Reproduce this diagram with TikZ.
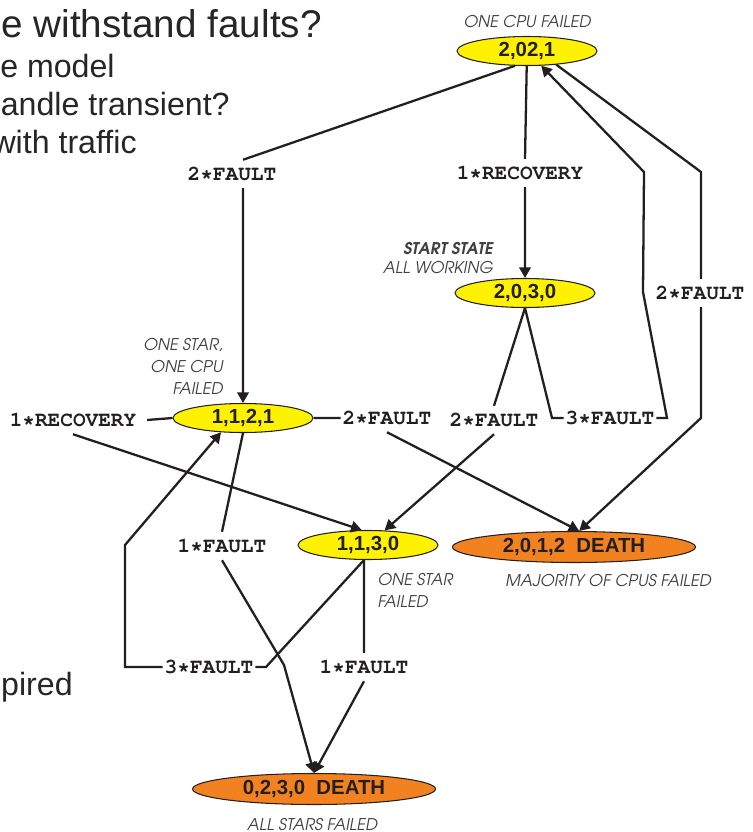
\documentclass[tikz,border=0pt]{standalone}
\usepackage[T1,TU]{fontenc}
\usepackage{fontspec}
\setmainfont{Liberation Sans}
\usetikzlibrary{shapes.geometric,arrows.meta}
\definecolor{stateyellow}{RGB}{255,242,0}
\definecolor{deathorange}{RGB}{242,130,32}
\definecolor{inkgray}{RGB}{35,31,32}

\newcommand{\ratefont}{\fontencoding{T1}\fontfamily{pcr}\fontseries{b}\fontshape{n}\fontsize{12}{13}\selectfont}
\newcommand{\notefont}{\fontencoding{T1}\fontfamily{pag}\fontseries{m}\fontshape{sl}\fontsize{9.2}{10}\selectfont}

\tikzset{
  state/.style={ellipse,draw=inkgray,line width=0.6pt,fill=stateyellow,inner sep=0pt,
    minimum width=2.8cm,minimum height=0.58cm,text=inkgray,
    font=\fontsize{11.6}{13}\selectfont\bfseries},
  death/.style={state,fill=deathorange,minimum width=4.86cm,minimum height=0.62cm},
  rate/.style={font=\ratefont,text=inkgray,inner xsep=1pt,inner ysep=4pt},
  note/.style={font=\notefont,text=black!75,inner sep=0pt},
  slide/.style={font=\fontsize{18.3}{20}\selectfont,text=black!85,inner sep=0pt,anchor=base east},
  trans/.style={line width=1.3pt,draw=inkgray,-{Triangle[length=6pt,width=6.5pt]}},
}

\begin{document}
\begin{tikzpicture}[x=0.02cm,y=-0.02cm]
  \useasboundingbox (0,0) rectangle (753,832);
  \clip (0,0) rectangle (753,832);

  \node[slide,font=\fontsize{22}{24}\selectfont] (t1) at (322,37) {e withstand faults?};
  \node[slide] (t2) at (115,77) {e model};
  \node[slide] (t3) at (230,115) {andle transient?};
  \node[slide] (t4) at (137,153) {with traffic};
  \node[slide] (t5) at (73,695) {pired};

  \node[state] (s2021) at (527,51) {2,02,1};
  \node[state] (s2030) at (525,293) {2,0,3,0};
  \node[state] (s1121) at (243,418) {1,1,2,1};
  \node[state] (s1130) at (368,545) {1,1,3,0};
  \node[death] (d2012) at (574,547) {2,0,1,2\ \ DEATH};
  \node[death] (d0230) at (314,789) {0,2,3,0\ \ DEATH};

  \node[note,anchor=base] (n2021) at (527,27) {ONE CPU FAILED};
  \node[note,anchor=base east,font=\notefont\fontseries{db}\selectfont] (n2030a) at (493,254) {START STATE};
  \node[note,anchor=base east] (n2030b) at (493,273) {ALL WORKING};
  \node[note,anchor=base east] (n1121a) at (223,350) {ONE STAR,};
  \node[note,anchor=base east] (n1121b) at (223,372) {ONE CPU};
  \node[note,anchor=base east] (n1121c) at (223,394) {FAILED};
  \node[note,anchor=base west] (n1130a) at (377,585) {ONE STAR};
  \node[note,anchor=base west] (n1130b) at (377,607) {FAILED};
  \node[note,anchor=base] (n2012) at (608,586) {MAJORITY OF CPUS FAILED};
  \node[note,anchor=base] (n0230) at (312,830) {ALL STARS FAILED};

  \node[rate] (f2021a) at (232,174) {2*FAULT};
  \node[rate] (r2021) at (520,173) {1*RECOVERY};
  \node[rate] (f2021b) at (700,293) {2*FAULT};
  \node[rate,inner xsep=6pt] (r1121) at (73,420) {1*RECOVERY};
  \node[rate] (f1121) at (387,418) {2*FAULT};
  \node[rate] (f2030a) at (494,420) {2*FAULT};
  \node[rate] (f2030b) at (610,418) {3*FAULT};
  \node[rate] (f1121b) at (222,546) {1*FAULT};
  \node[rate] (f1130a) at (209,667) {3*FAULT};
  \node[rate] (f1130b) at (364,667) {1*FAULT};

  \coordinate (c1) at (552,418);
  \coordinate (c2) at (667,418);
  \coordinate (c3) at (643,292);
  \coordinate (c4) at (644,172);
  \coordinate (c5) at (701,172);
  \coordinate (c6) at (701,418);
  \coordinate (c7) at (284,665);
  \coordinate (c8) at (266,667);
  \coordinate (c9) at (125,667);
  \coordinate (c10) at (125,545);

  \draw[trans] (s2021.-129) -- (f2021a.north -| s1121) (f2021a.south -| s1121) -- (s1121);
  \draw[trans] (s2021) -- (r2021.north -| s2030) (r2021.south -| s2030) -- (s2030);
  \draw[trans] (s2030.south) -- (c1) -- (f2030b.west) (f2030b.east) -- (c2) -- (c3) -- (c4) -- (s2021);
  \draw[trans] (s2021.-25) -- (c5) -- (f2021b.north -| c5) (f2021b.south -| c5) -- (c6) -- (d2012.72);
  \draw[trans] (s2030.south) -- (f2030a.north) (f2030a.south) -- (s1130);
  \draw[trans] (s1121.east) -- (f1121.west) (f1121.south) -- (d2012.72);
  \draw[trans] (s1121.west) -- (r1121.east) (r1121.south) -- (s1130.113);
  \draw[trans] (s1121.south) -- (f1121b.north) (f1121b.south) -- (c7) -- (d0230.north);
  \draw[trans] (s1130.south -| f1130b) -- (c8) -- (f1130a.east) (f1130a.west) -- (c9) -- (c10) -- (s1121.-147);
  \draw[trans] (s1130.south -| f1130b) -- (f1130b.north) (f1130b.south) -- (d0230.north);
\end{tikzpicture}
\end{document}
